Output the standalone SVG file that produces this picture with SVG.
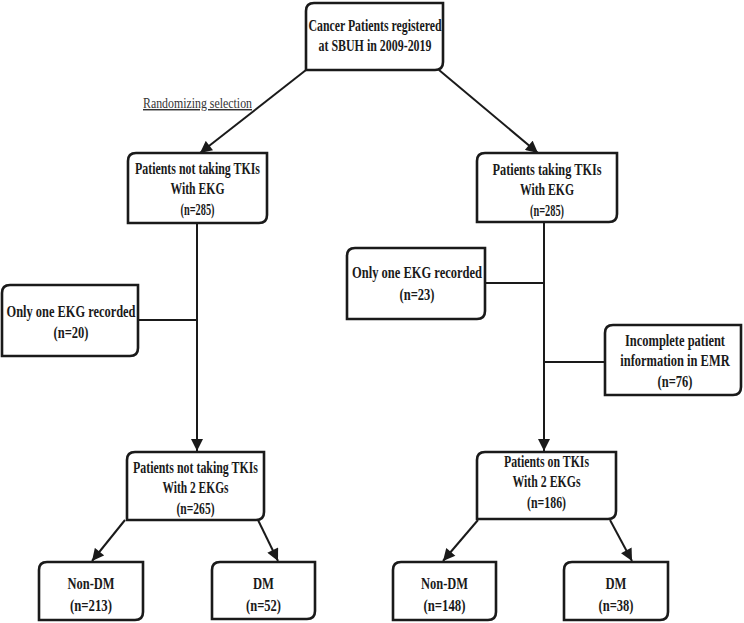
<svg xmlns="http://www.w3.org/2000/svg" width="744" height="623" viewBox="0 0 744 623">
<style>
.box{fill:#fff;stroke:#1a1a1a;stroke-width:2.6}
.t{font-family:"Liberation Serif","Times New Roman",serif;font-weight:bold;font-size:16px;fill:#1a1a1a;text-anchor:middle}
.r{font-family:"Liberation Serif","Times New Roman",serif;font-size:14.5px;fill:#333;text-anchor:middle;text-decoration:underline}
.c{stroke:#1a1a1a;stroke-width:2;fill:none}
</style>
<defs>
<marker id="ah" viewBox="0 0 10 10" refX="10" refY="5" markerWidth="6.5" markerHeight="6" markerUnits="strokeWidth" orient="auto">
<path d="M0,0 L10,5 L0,10 Z" fill="#1a1a1a"/>
</marker>
</defs>
<g id="connectors">
<path class="c" d="M306,70 L200,153" marker-end="url(#ah)"/>
<path class="c" d="M439,70 L538,153" marker-end="url(#ah)"/>
<path class="c" d="M197,223 L197,451" marker-end="url(#ah)"/>
<path class="c" d="M138,320 L197,320"/>
<path class="c" d="M544,222 L544,451" marker-end="url(#ah)"/>
<path class="c" d="M485,283 L544,283"/>
<path class="c" d="M544,362 L605,362"/>
<path class="c" d="M125,520 L92,561" marker-end="url(#ah)"/>
<path class="c" d="M258,520 L278,561" marker-end="url(#ah)"/>
<path class="c" d="M478,520 L443,561" marker-end="url(#ah)"/>
<path class="c" d="M610,520 L632,561" marker-end="url(#ah)"/>
</g>
<text class="r" x="197.5" y="108" textLength="109" lengthAdjust="spacingAndGlyphs">Randomizing selection</text>
<g id="top">
<path class="box" d="M314,3 H443 V62 Q443,70 435,70 H306 V11 Q306,3 314,3 Z"/>
<text class="t" x="375" y="31" textLength="133" lengthAdjust="spacingAndGlyphs">Cancer Patients registered</text>
<text class="t" x="375" y="51" textLength="113" lengthAdjust="spacingAndGlyphs">at SBUH in 2009-2019</text>
</g>
<g id="notTKI">
<path class="box" d="M136,153 H267 V215 Q267,223 259,223 H128 V161 Q128,153 136,153 Z"/>
<text class="t" x="197.5" y="174" textLength="125" lengthAdjust="spacingAndGlyphs">Patients not taking TKIs</text>
<text class="t" x="197.5" y="194" textLength="54" lengthAdjust="spacingAndGlyphs">With EKG</text>
<text class="t" x="197.5" y="215" textLength="34" lengthAdjust="spacingAndGlyphs">(n=285)</text>
</g>
<g id="TKI">
<path class="box" d="M485,153 H617 V214 Q617,222 609,222 H477 V161 Q477,153 485,153 Z"/>
<text class="t" x="547" y="175" textLength="109" lengthAdjust="spacingAndGlyphs">Patients taking TKIs</text>
<text class="t" x="547" y="195" textLength="54" lengthAdjust="spacingAndGlyphs">With EKG</text>
<text class="t" x="547" y="216" textLength="34" lengthAdjust="spacingAndGlyphs">(n=285)</text>
</g>
<g id="oneEKGleft">
<path class="box" d="M10,285 H138 V348 Q138,356 130,356 H2 V293 Q2,285 10,285 Z"/>
<text class="t" x="71" y="317" textLength="129" lengthAdjust="spacingAndGlyphs">Only one EKG recorded</text>
<text class="t" x="71" y="338" textLength="35" lengthAdjust="spacingAndGlyphs">(n=20)</text>
</g>
<g id="oneEKGright">
<path class="box" d="M355,248 H485 V311 Q485,319 477,319 H347 V256 Q347,248 355,248 Z"/>
<text class="t" x="417" y="278" textLength="130" lengthAdjust="spacingAndGlyphs">Only one EKG recorded</text>
<text class="t" x="417" y="300" textLength="35" lengthAdjust="spacingAndGlyphs">(n=23)</text>
</g>
<g id="incomplete">
<path class="box" d="M613,325 H741 V387 Q741,395 733,395 H605 V333 Q605,325 613,325 Z"/>
<g transform="translate(675,0) scale(0.78,1)">
<text class="t" x="0" y="346">Incomplete patient</text>
<text class="t" x="0" y="366">information in EMR</text>
<text class="t" x="0" y="387">(n=76)</text>
</g>
</g>
<g id="notTKI2">
<path class="box" d="M135,452 H264 V512 Q264,520 256,520 H127 V460 Q127,452 135,452 Z"/>
<text class="t" x="195.5" y="473" textLength="125" lengthAdjust="spacingAndGlyphs">Patients not taking TKIs</text>
<text class="t" x="195.5" y="493" textLength="66" lengthAdjust="spacingAndGlyphs">With 2 EKGs</text>
<text class="t" x="195.5" y="514" textLength="38" lengthAdjust="spacingAndGlyphs">(n=265)</text>
</g>
<g id="TKI2">
<path class="box" d="M485,452 H616 V511 Q616,519 608,519 H477 V460 Q477,452 485,452 Z"/>
<text class="t" x="546.5" y="467" textLength="85" lengthAdjust="spacingAndGlyphs">Patients on TKIs</text>
<text class="t" x="546.5" y="487" textLength="68" lengthAdjust="spacingAndGlyphs">With 2 EKGs</text>
<text class="t" x="546.5" y="508" textLength="39" lengthAdjust="spacingAndGlyphs">(n=186)</text>
</g>
<g id="nonDMleft">
<path class="box" d="M47,562 H143 V612 Q143,620 135,620 H39 V570 Q39,562 47,562 Z"/>
<text class="t" x="91" y="589" textLength="47" lengthAdjust="spacingAndGlyphs">Non-DM</text>
<text class="t" x="91" y="611" textLength="42" lengthAdjust="spacingAndGlyphs">(n=213)</text>
</g>
<g id="DMleft">
<path class="box" d="M220,562 H315 V611 Q315,619 307,619 H212 V570 Q212,562 220,562 Z"/>
<text class="t" x="263.5" y="589" textLength="21" lengthAdjust="spacingAndGlyphs">DM</text>
<text class="t" x="263.5" y="611" textLength="35" lengthAdjust="spacingAndGlyphs">(n=52)</text>
</g>
<g id="nonDMright">
<path class="box" d="M401,562 H496 V612 Q496,620 488,620 H393 V570 Q393,562 401,562 Z"/>
<text class="t" x="444.5" y="589" textLength="47" lengthAdjust="spacingAndGlyphs">Non-DM</text>
<text class="t" x="444.5" y="611" textLength="42" lengthAdjust="spacingAndGlyphs">(n=148)</text>
</g>
<g id="DMright">
<path class="box" d="M572,562 H668 V612 Q668,620 660,620 H564 V570 Q564,562 572,562 Z"/>
<text class="t" x="616" y="589" textLength="21" lengthAdjust="spacingAndGlyphs">DM</text>
<text class="t" x="616" y="611" textLength="35" lengthAdjust="spacingAndGlyphs">(n=38)</text>
</g>
</svg>
